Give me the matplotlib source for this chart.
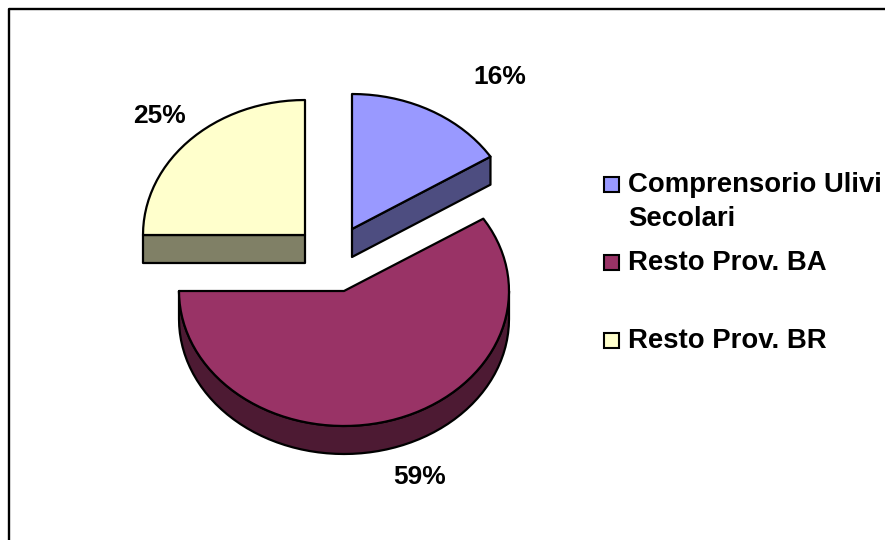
#!/usr/bin/env python3
import numpy as np
import matplotlib
matplotlib.use("Agg")
import matplotlib.pyplot as plt
from matplotlib.patches import Polygon, Rectangle

labels = ["Comprensorio Ulivi\nSecolari", "Resto Prov. BA", "Resto Prov. BR"]
values = [16, 59, 25]
pct_labels = ["16%", "59%", "25%"]
colors = ["#9999FF", "#993366", "#FFFFCC"]
side_colors = ["#4D4D80", "#4D1A33", "#808066"]

# pixel layout of the exploded pie
apex = [(352, 229), (344, 291), (305, 235)]
radii_x = [164, 165, 162]
ry = 135
depth = 28
pct_pos = [(500, 77), (420, 477), (160, 116)]
legend_y = [184, 262, 340]

plt.rcParams["font.family"] = ["Liberation Sans", "DejaVu Sans"]


def rim(center, rx, t0, t1):
    # angles are clockwise from 12 o'clock
    t = np.radians(np.arange(t0, t1, 3.0).tolist() + [t1])
    return np.column_stack([center[0] + rx * np.sin(t), center[1] - ry * np.cos(t)])


fig = plt.figure(figsize=(8.85, 5.4), dpi=100)
ax = fig.add_axes([0, 0, 1, 1])
ax.set_xlim(0, 885)
ax.set_ylim(540, 0)
ax.axis("off")

# chart frame, only left and top fall inside the picture
ax.plot([8.5, 8.5, 885], [540, 8.5, 8.5], color="black", lw=1.7, solid_capstyle="butt")

edge = dict(edgecolor="black", linewidth=1.6, joinstyle="round")
start = 0.0
for i, v in enumerate(values):
    end = start + v / sum(values) * 360
    c = apex[i]
    rx = radii_x[i]
    top = rim(c, rx, start, end)
    down = np.array([0, depth])

    # visible side faces
    if i == 0:
        # cut face on the closing radius
        a = np.array(c)
        side = np.array([a, top[-1], top[-1] + down, a + down])
        ax.add_patch(Polygon(side, facecolor=side_colors[i], **edge))
    elif i == 2:
        # cut face on the opening radius
        a = np.array(c)
        side = np.array([a, top[0], top[0] + down, a + down])
        ax.add_patch(Polygon(side, facecolor=side_colors[i], **edge))
    else:
        front = rim(c, rx, 90, end)
        side = np.vstack([front, (front + down)[::-1]])
        ax.add_patch(Polygon(side, facecolor=side_colors[i], **edge))

    ax.add_patch(Polygon(np.vstack([c, top]), facecolor=colors[i], **edge))
    ax.text(pct_pos[i][0], pct_pos[i][1], pct_labels[i], fontsize=19, fontweight="bold",
            ha="center", va="center")
    start = end

# legend
for i, lab in enumerate(labels):
    y = legend_y[i]
    ax.add_patch(Rectangle((604, y - 7.5), 15, 15, facecolor=colors[i], edgecolor="black", linewidth=1.5))
    lines = lab.split("\n")
    for j, line in enumerate(lines):
        ax.text(628, y + 1 + j * 34, line, fontsize=19.8, fontweight="bold", ha="left", va="center")

fig.savefig("out.png", dpi=100)
